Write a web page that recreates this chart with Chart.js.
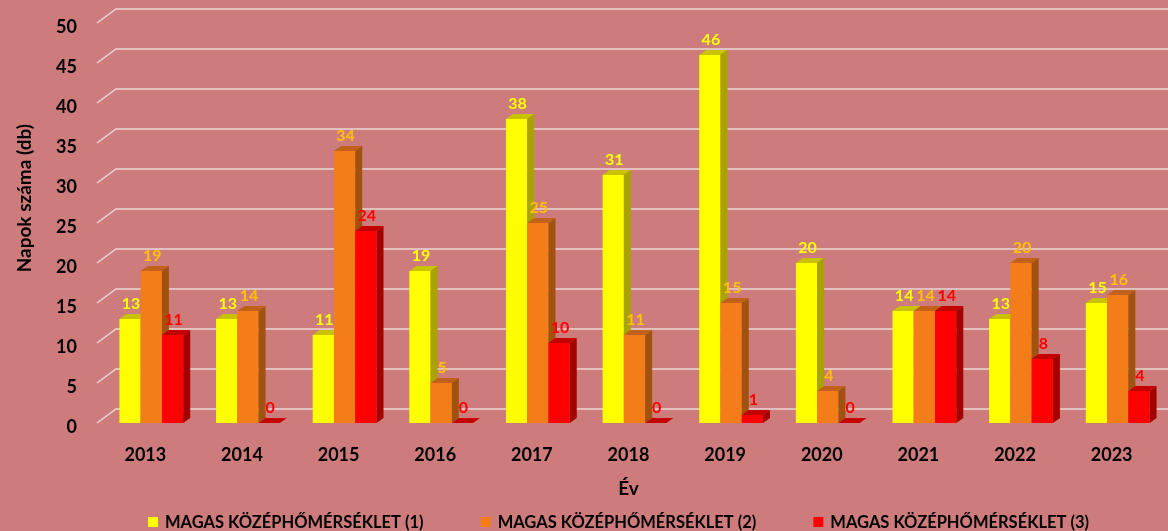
<!DOCTYPE html>
<html>
<head>
<meta charset="utf-8">
<script src="https://cdn.jsdelivr.net/npm/chart.js@4.4.1/dist/chart.umd.min.js"></script>
<style>
  html, body { margin: 0; padding: 0; background: #CD7B7B; }
  #wrap { width: 1168px; height: 531px; }
</style>
</head>
<body>
<div id="wrap"><canvas id="chart" width="1168" height="531"></canvas></div>
<script>
const years = ['2013', '2014', '2015', '2016', '2017', '2018', '2019', '2020', '2021', '2022', '2023'];
const series1 = [13, 13, 11, 19, 38, 31, 46, 20, 14, 13, 15];
const series2 = [19, 14, 34, 5, 25, 11, 15, 4, 14, 20, 16];
const series3 = [11, 0, 24, 0, 10, 0, 1, 0, 14, 8, 4];
const seriesNames = ['MAGAS KÖZÉPHŐMÉRSÉKLET (1)', 'MAGAS KÖZÉPHŐMÉRSÉKLET (2)', 'MAGAS KÖZÉPHŐMÉRSÉKLET (3)'];
const yTicks = [0, 5, 10, 15, 20, 25, 30, 35, 40, 45, 50];
const yTitle = 'Napok száma (db)';

// front / top / side / label colours per series
const faces = [
  { front: '#FFFF00', top: '#C9C200', side: '#A9A300', label: '#FFFF00' },
  { front: '#F47D19', top: '#C2621A', side: '#A2520F', label: '#FFC000' },
  { front: '#FF0000', top: '#C40000', side: '#A50000', label: '#FF0000' }
];
const DX = 7, DY = 5;      // bar depth
const GX = 19, GY = 14;    // back wall offset
const SHIFT = 6;           // perspective shift of the bar groups

const font = 'Lato, "Open Sans", sans-serif';

const wall = {
  id: 'wall',
  beforeDatasetsDraw(chart) {
    const { ctx, chartArea, scales } = chart;
    ctx.save();
    ctx.strokeStyle = 'rgba(235,225,225,0.9)';
    ctx.lineWidth = 1.5;
    yTicks.forEach(v => {
      const y = scales.y.getPixelForValue(v);
      ctx.beginPath();
      ctx.moveTo(chartArea.left, y);
      ctx.lineTo(chartArea.left + GX, y - GY);
      ctx.lineTo(chart.width, y - GY);
      ctx.stroke();
    });
    ctx.restore();
  },
  afterDatasetsDraw(chart) {
    const { ctx } = chart;
    ctx.save();
    // bars drawn left to right so each front hides the previous bar's side
    chart.data.datasets.forEach((ds, i) => {
      const c = faces[i];
      chart.getDatasetMeta(i).data.forEach(bar => {
        const x0 = bar.x - bar.width / 2 + SHIFT, x1 = bar.x + bar.width / 2 + SHIFT;
        const top = bar.y, bottom = bar.base;
        ctx.fillStyle = c.front;
        ctx.fillRect(x0, top, x1 - x0, bottom - top);
        ctx.fillStyle = c.top;
        ctx.beginPath();
        ctx.moveTo(x0, top);
        ctx.lineTo(x0 + DX, top - DY);
        ctx.lineTo(x1 + DX, top - DY);
        ctx.lineTo(x1, top);
        ctx.closePath();
        ctx.fill();
        if (bottom - top > 0.5) {
          ctx.fillStyle = c.side;
          ctx.beginPath();
          ctx.moveTo(x1, top);
          ctx.lineTo(x1 + DX, top - DY);
          ctx.lineTo(x1 + DX, bottom - DY);
          ctx.lineTo(x1, bottom);
          ctx.closePath();
          ctx.fill();
        }
      });
    });
    // value labels
    ctx.font = 'bold 16px ' + font;
    ctx.textAlign = 'center';
    ctx.textBaseline = 'alphabetic';
    chart.data.datasets.forEach((ds, i) => {
      ctx.fillStyle = faces[i].label;
      chart.getDatasetMeta(i).data.forEach((bar, j) => {
        ctx.fillText(String(ds.data[j]), bar.x + SHIFT + 1, bar.y - DY - 5);
      });
    });
    ctx.restore();
  },
  afterDraw(chart) {
    const { ctx, chartArea } = chart;
    ctx.save();
    // y axis title
    ctx.fillStyle = '#000';
    ctx.font = 'bold 19px ' + font;
    ctx.textAlign = 'center';
    ctx.textBaseline = 'middle';
    ctx.translate(25, chartArea.top + (chartArea.bottom - chartArea.top) * 0.438);
    ctx.rotate(-Math.PI / 2);
    ctx.fillText(yTitle, 0, 0);
    ctx.restore();

    // legend
    ctx.save();
    ctx.font = 'bold 16.5px ' + font;
    ctx.textBaseline = 'middle';
    const box = 10, gap = 7, spacing = 57;
    const widths = seriesNames.map(n => box + gap + ctx.measureText(n).width);
    const total = widths.reduce((a, b) => a + b, 0) + spacing * (widths.length - 1);
    let x = (chartArea.left + chartArea.right) / 2 - 10 - total / 2;
    const y = 522;
    seriesNames.forEach((n, i) => {
      ctx.fillStyle = faces[i].front;
      ctx.fillRect(x, y - box / 2, box, box);
      ctx.fillStyle = '#000';
      ctx.fillText(n, x + box + gap, y + 1);
      x += widths[i] + spacing;
    });
    ctx.restore();
  }
};

new Chart(document.getElementById('chart'), {
  type: 'bar',
  data: {
    labels: years,
    datasets: [series1, series2, series3].map((d, i) => ({
      label: seriesNames[i],
      data: d,
      backgroundColor: 'rgba(0,0,0,0)',
      borderWidth: 0,
      categoryPercentage: 0.66,
      barPercentage: 1
    }))
  },
  options: {
    responsive: false,
    animation: false,
    layout: { padding: { top: 23, right: 8, left: 6, bottom: 30 } },
    plugins: {
      tooltip: { enabled: false },
      legend: { display: false }
    },
    scales: {
      x: {
        grid: { display: false },
        border: { display: false },
        afterFit(s) { s.height = 78; },
        ticks: { color: '#000', font: { family: font, weight: 'bold', size: 18 }, padding: 13 },
        title: { display: true, text: 'Év', color: '#000', font: { family: font, weight: 'bold', size: 19 }, padding: { top: 10, bottom: 1 } }
      },
      y: {
        min: 0,
        max: 50,
        grid: { display: false, drawTicks: true, tickLength: 17 },
        border: { display: false },
        afterFit(s) { s.width = 91; },
        ticks: { stepSize: 5, color: '#000', font: { family: font, weight: 'bold', size: 18 }, padding: 3, labelOffset: 4 }
      }
    }
  },
  plugins: [wall]
});
</script>
</body>
</html>
